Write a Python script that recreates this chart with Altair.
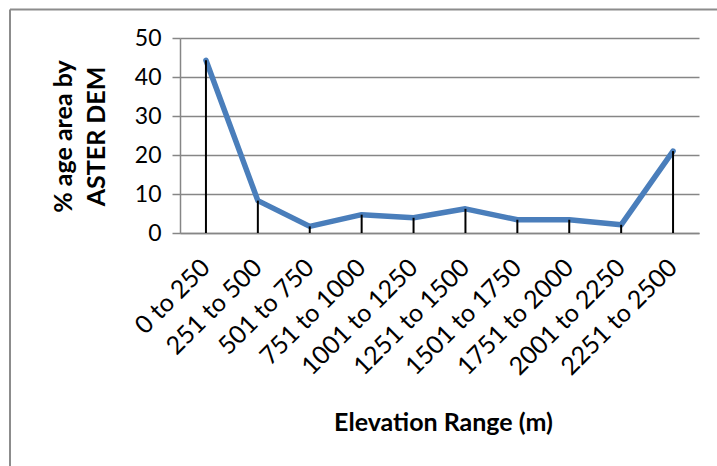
import altair as alt
import pandas as pd

# Share of area in each elevation band
ranges = ["0 to 250", "251 to 500", "501 to 750", "751 to 1000", "1001 to 1250",
          "1251 to 1500", "1501 to 1750", "1751 to 2000", "2001 to 2250", "2251 to 2500"]
percent = [44.3, 8.3, 1.7, 4.7, 3.9, 6.2, 3.4, 3.4, 2.1, 21.0]
y_ticks = [0, 10, 20, 30, 40, 50]

df = pd.DataFrame({"range": ranges, "pct": percent, "zero": [0] * len(ranges)})

FONT = "Lato"
GRID = "#868686"

x_enc = alt.X(
    "range:N", sort=ranges, title="Elevation Range (m)",
    scale=alt.Scale(paddingInner=0, paddingOuter=0),
    axis=alt.Axis(
        labelAngle=-45, labelAlign="right", labelBaseline="middle",
        labelPadding=30, labelFont=FONT, labelFontSize=25, labelColor="#000000",
        labelOverlap=False, labelBound=False,
        ticks=False, domainColor=GRID, domainWidth=1.5,
        titleFont=FONT, titleFontSize=25, titleFontWeight="bold", titleColor="#000000",
        titleX=263, titleY=197, titleAnchor="start", titleAlign="center",
        titleBaseline="alphabetic",
    ),
)
y_enc = alt.Y(
    "pct:Q", title=["% age area by", "ASTER DEM"],
    scale=alt.Scale(domain=[0, 50], nice=False),
    axis=alt.Axis(
        values=y_ticks, tickCount=6, labelFont=FONT, labelFontSize=23, labelColor="#000000",
        labelOverlap=False, labelFlush=False, labelBound=False,
        labelPadding=11, tickSize=8, tickColor=GRID, tickWidth=1.5,
        domainColor=GRID, domainWidth=1.5,
        gridColor=GRID, gridWidth=1.6, gridOpacity=1,
        titleFont=FONT, titleFontSize=25, titleFontWeight="bold", titleColor="#000000",
        titleLineHeight=33, titleX=-117, titleY=98, titleAngle=-90,
        titleAlign="center", titleBaseline="middle", titleAnchor="start",
    ),
)

base = alt.Chart(df)

line = base.mark_line(
    color="#4a7ebb", strokeWidth=5.5, strokeCap="round", strokeJoin="round"
).encode(x=x_enc, y=y_enc)

# drop lines from each point down to the category axis
drops = base.mark_rule(color="#000000", strokeWidth=2).encode(
    x=x_enc, y=y_enc, y2="zero:Q"
)

# outer frame around the figure (top and left edges)
frame_df = pd.DataFrame({"k": [0]})
frame_top = alt.Chart(frame_df).mark_rule(color="#8c8c8c", strokeWidth=2).encode(
    x=alt.value(-170), x2=alt.value(540), y=alt.value(-28.5)
)
frame_left = alt.Chart(frame_df).mark_rule(color="#8c8c8c", strokeWidth=2).encode(
    x=alt.value(-170), y=alt.value(-28.5), y2=alt.value(430)
)

chart = alt.layer(line, drops, frame_top, frame_left).properties(
    width=519, height=195,
    autosize=alt.AutoSizeParams(type="none"),
    padding={"left": 180, "top": 38, "right": 18, "bottom": 233},
    background="#ffffff",
).configure_view(stroke=None)

chart.save("out.html", embed_options={"renderer": "svg", "actions": False})
